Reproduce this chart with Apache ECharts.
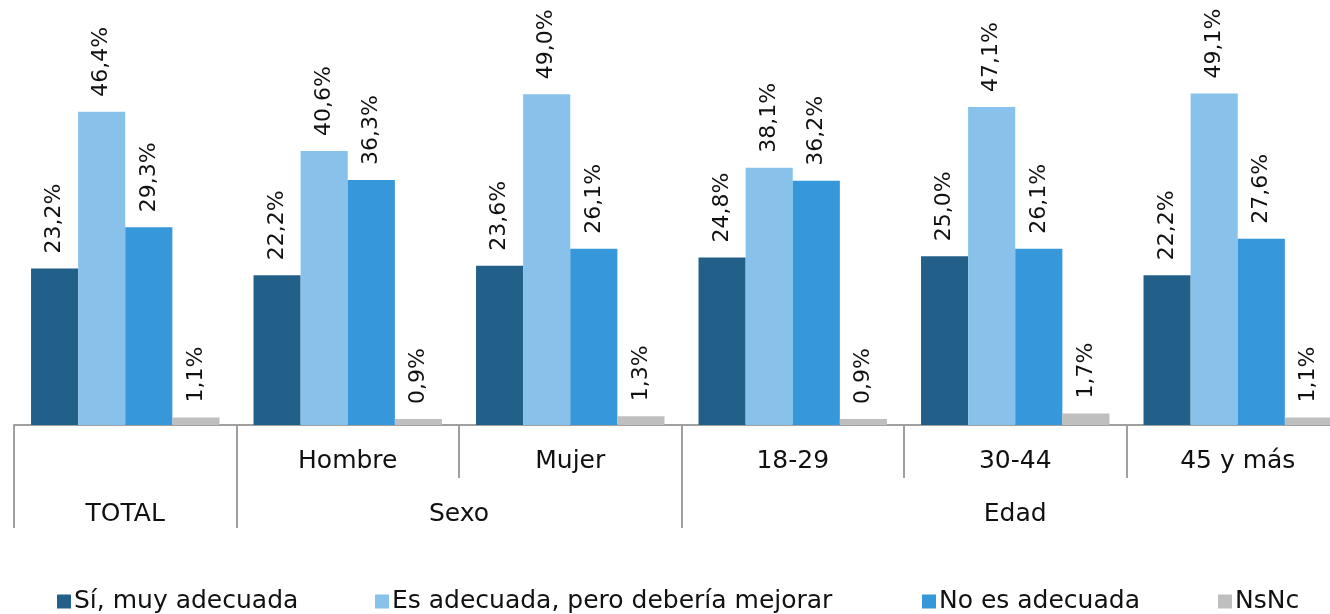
<!DOCTYPE html>
<html>
<head>
<meta charset="utf-8">
<script src="https://cdn.jsdelivr.net/npm/echarts@6/dist/echarts.min.js"></script>
<style>
  html, body { margin: 0; padding: 0; background: #fff; }
  #chart { width: 1330px; height: 614px; }
</style>
</head>
<body>
<div id="chart"></div>
<script>
// categories (first level) and groups (second level)
var categories = ['', 'Hombre', 'Mujer', '18-29', '30-44', '45 y más'];
var groupNames = ['TOTAL', 'Sexo', 'Edad'];
var groupCenters = [0.5, 2, 4.5];   // centre of each group, in category units
var groupBounds = [0, 1, 3, 6];     // group separators

var seriesNames = ['Sí, muy adecuada', 'Es adecuada, pero debería mejorar', 'No es adecuada', 'NsNc'];
var muyAdecuada = [23.2, 22.2, 23.6, 24.8, 25.0, 22.2];
var deberiaMejorar = [46.4, 40.6, 49.0, 38.1, 47.1, 49.1];
var noAdecuada = [29.3, 36.3, 26.1, 36.2, 26.1, 27.6];
var nsnc = [1.1, 0.9, 1.3, 0.9, 1.7, 1.1];

var colors = ['#236089', '#88C1E9', '#3797DB', '#BFBFBF'];
var font = 'DejaVu Sans';
var legendLeft = [52, 370, 917, 1213];

var chart = echarts.init(document.getElementById('chart'));

var makeSeries = function(name, data) {
  return {
    name: name,
    type: 'bar',
    data: data,
    barGap: '0%',
    barCategoryGap: '15.3%',
    label: {
      show: true,
      position: 'top',
      rotate: 90,
      align: 'left',
      verticalAlign: 'middle',
      distance: 15,
      fontFamily: font,
      fontSize: 22,
      color: '#111',
      formatter: function(p) {
        return p.value.toFixed(1).replace('.', ',') + '%';
      }
    }
  };
};

// one legend per item, so each sits where the reference puts it
var legends = seriesNames.map(function(name, i) {
  return {
    left: legendLeft[i],
    top: 584,
    itemWidth: 14,
    itemHeight: 14,
    itemGap: 0,
    icon: 'rect',
    textStyle: { fontFamily: font, fontSize: 25, color: '#111', padding: [0, 0, 0, -2] },
    data: [name]
  };
});

var options = {
  animation: false,
  color: colors,
  textStyle: { fontFamily: font },
  // the last group runs past the right edge in the reference
  grid: { left: 14, right: -19, top: 20, bottom: 189, outerBoundsMode: 'none', containLabel: false },
  legend: legends,
  xAxis: [
    {
      type: 'category',
      data: categories,
      position: 'bottom',
      axisLine: { lineStyle: { color: '#A0A0A0', width: 2 } },
      axisTick: { show: true, length: 53, lineStyle: { color: '#A0A0A0', width: 2 } },
      axisLabel: { margin: 24, fontFamily: font, fontSize: 25, color: '#111' }
    },
    {
      type: 'value',
      min: 0,
      max: 6,
      position: 'bottom',
      axisLine: { show: false },
      splitLine: { show: false },
      axisTick: {
        show: true,
        length: 103,
        customValues: groupBounds,
        lineStyle: { color: '#A0A0A0', width: 2 }
      },
      axisLabel: {
        margin: 77,
        fontFamily: font,
        fontSize: 25,
        color: '#111',
        customValues: groupCenters,
        formatter: function(v) {
          var i = groupCenters.indexOf(v);
          return i > -1 ? groupNames[i] : '';
        }
      }
    }
  ],
  yAxis: { type: 'value', min: 0, max: 60, show: false },
  series: [
    makeSeries(seriesNames[0], muyAdecuada),
    makeSeries(seriesNames[1], deberiaMejorar),
    makeSeries(seriesNames[2], noAdecuada),
    makeSeries(seriesNames[3], nsnc)
  ]
};

chart.setOption(options);
</script>
</body>
</html>
